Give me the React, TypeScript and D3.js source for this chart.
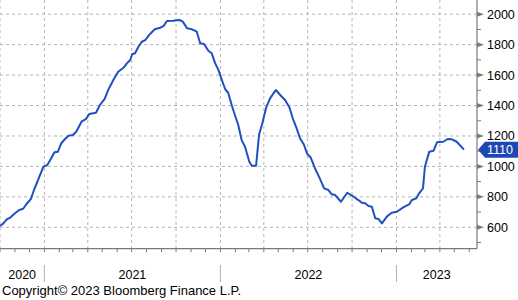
import React from "react";
import * as d3 from "d3";

const dates: string[] = [
  "2020-10-01","2020-10-08","2020-10-15","2020-10-23","2020-11-01","2020-11-10","2020-11-18","2020-11-25",
  "2020-12-04","2020-12-11","2020-12-19","2020-12-30","2021-01-07","2021-01-14","2021-01-22","2021-01-29",
  "2021-02-05","2021-02-13","2021-02-20","2021-03-01","2021-03-08","2021-03-19","2021-03-28","2021-04-04",
  "2021-04-18","2021-04-26","2021-05-06","2021-05-14","2021-05-24","2021-06-03","2021-06-14","2021-06-21",
  "2021-06-28","2021-07-02","2021-07-08","2021-07-15","2021-07-22","2021-07-29","2021-08-08","2021-08-18",
  "2021-08-29","2021-09-05","2021-09-12","2021-09-25","2021-10-08","2021-10-15","2021-10-24","2021-11-03",
  "2021-11-13","2021-11-20","2021-11-28","2021-12-07","2021-12-14","2021-12-21","2021-12-28","2022-01-04",
  "2022-01-11","2022-01-17","2022-01-25","2022-01-31","2022-02-07","2022-02-14","2022-02-21","2022-03-02",
  "2022-03-07","2022-03-16","2022-03-22","2022-03-28","2022-04-06","2022-04-14","2022-04-21","2022-04-26",
  "2022-05-05","2022-05-15","2022-05-24","2022-05-31","2022-06-08","2022-06-15","2022-06-23","2022-06-30",
  "2022-07-07","2022-07-16","2022-07-26","2022-08-04","2022-08-13","2022-08-20","2022-08-27","2022-09-08",
  "2022-09-21","2022-10-04","2022-10-14","2022-10-21","2022-10-28","2022-11-04","2022-11-11","2022-11-18",
  "2022-11-25","2022-12-02","2022-12-12","2022-12-22","2023-01-02","2023-01-15","2023-01-28","2023-02-02",
  "2023-02-11","2023-02-17","2023-02-25","2023-03-01","2023-03-10","2023-03-19","2023-03-26","2023-04-08",
  "2023-04-17","2023-04-26","2023-05-06","2023-05-21"
];

const values: number[] = [
  609,626,652,666,692,714,722,753,
  786,850,911,998,1009,1047,1093,1097,
  1152,1180,1202,1206,1228,1294,1311,1344,
  1353,1403,1443,1507,1568,1622,1648,1677,
  1699,1737,1743,1786,1819,1830,1870,1901,
  1911,1922,1955,1957,1962,1951,1907,1901,
  1885,1809,1804,1760,1743,1679,1633,1568,
  1507,1484,1397,1338,1272,1173,1129,1031,
  1005,1005,1206,1272,1388,1447,1480,1502,
  1469,1436,1388,1316,1250,1185,1144,1082,
  1060,988,921,856,845,817,812,768,
  827,801,779,762,758,740,735,659,
  654,626,670,696,702,731,753,779,
  790,823,856,998,1097,1103,1158,1162,
  1180,1178,1162,1110
];

const yTicks: number[] = [600, 800, 1000, 1200, 1400, 1600, 1800, 2000];
const yMinorTicks: number[] = [500, 700, 900, 1100, 1300, 1500, 1700, 1900];
const yearLabels: string[] = ["2020", "2021", "2022", "2023"];
const lastValueLabel = "1110";
const copyright = "Copyright\u00A9 2023 Bloomberg Finance L.P.";

const W = 518;
const H = 300;
const plotRight = 477;
const plotBottom = 248.7;
const FONT = "'Liberation Sans', Arial, sans-serif";
const BLUE = "#2150c0";

export default function App() {
  const parse = d3.timeParse("%Y-%m-%d");
  const data = dates.map((d, i) => ({ date: parse(d) as Date, value: values[i] }));

  const xStart = new Date(2020, 9, 1);
  const xEnd = new Date(2023, 5, 17);
  const x = d3.scaleTime().domain([xStart, xEnd]).range([0, plotRight]);
  const y = d3.scaleLinear().domain([600, 2000]).range([227.3, 14.2]);

  const line = d3
    .line<{ date: Date; value: number }>()
    .x((d) => x(d.date))
    .y((d) => y(d.value))
    .curve(d3.curveLinear);

  const quarters = d3.timeMonth.every(3)!.range(xStart, xEnd);
  const months = d3.timeMonth.range(xStart, xEnd);
  const years = d3.timeYear.range(new Date(2021, 0, 1), xEnd);

  const yearBounds = [xStart, ...years, xEnd];
  const yearCenters = yearLabels.map((_, i) => (x(yearBounds[i]) + x(yearBounds[i + 1])) / 2);

  const last = data[data.length - 1];
  const ly = y(last.value);

  return (
    <svg
      width={W}
      height={H}
      style={{ position: "absolute", left: 0, top: 0, background: "#fff" }}
      fontFamily={FONT}
    >
      {/* horizontal grid */}
      {yTicks.map((t) => (
        <line key={"hg" + t} x1={0} x2={plotRight} y1={y(t)} y2={y(t)} stroke="#b4b4b4" strokeWidth={1} strokeDasharray="3,3" />
      ))}
      {/* vertical grid */}
      {quarters.map((q) => (
        <line key={"vg" + q.getTime()} x1={x(q)} x2={x(q)} y1={0} y2={plotBottom} stroke="#b4b4b4" strokeWidth={1} strokeDasharray="3,3" />
      ))}

      {/* x axis */}
      <line x1={0} x2={plotRight} y1={plotBottom} y2={plotBottom} stroke="#7a7a7a" strokeWidth={1.2} />
      {months.map((m) => (
        <line key={"mt" + m.getTime()} x1={x(m)} x2={x(m)} y1={plotBottom} y2={plotBottom + 3.5} stroke="#7a7a7a" strokeWidth={1} />
      ))}
      {years.map((yr) => (
        <line key={"ys" + yr.getTime()} x1={x(yr)} x2={x(yr)} y1={265} y2={282} stroke="#b0b0b0" strokeWidth={1} />
      ))}
      {yearLabels.map((lbl, i) => (
        <text key={lbl} x={yearCenters[i]} y={279} textAnchor="middle" fontSize={12.5} fill="#000">
          {lbl}
        </text>
      ))}

      {/* y axis */}
      <line x1={plotRight} x2={plotRight} y1={0} y2={plotBottom} stroke="#7a7a7a" strokeWidth={1.2} />
      {yMinorTicks.map((t) => (
        <line key={"ym" + t} x1={plotRight} x2={plotRight + 4} y1={y(t)} y2={y(t)} stroke="#7a7a7a" strokeWidth={1} />
      ))}
      {yTicks.map((t) => (
        <g key={"yt" + t}>
          <path
            d={`M${plotRight},${y(t) - 2.5} L${plotRight + 7},${y(t)} L${plotRight},${y(t) + 2.5} Z`}
            fill="#7a7a7a"
          />
          <text x={487} y={y(t)} dy="0.36em" fontSize={12.5} fill="#000">
            {t}
          </text>
        </g>
      ))}

      {/* series */}
      <path d={line(data) || ""} fill="none" stroke={BLUE} strokeWidth={2} strokeLinejoin="round" />

      {/* last value label */}
      <path
        d={`M${plotRight + 1},${ly} L${plotRight + 8},${ly - 8} L${W},${ly - 8} L${W},${ly + 8} L${plotRight + 8},${ly + 8} Z`}
        fill="#1d47b5"
      />
      <text x={487} y={ly} dy="0.36em" fontSize={12.5} fill="#fff">
        {lastValueLabel}
      </text>

      {/* copyright */}
      <text x={2} y={295} fontSize={13} fill="#000">
        {copyright}
      </text>
    </svg>
  );
}
